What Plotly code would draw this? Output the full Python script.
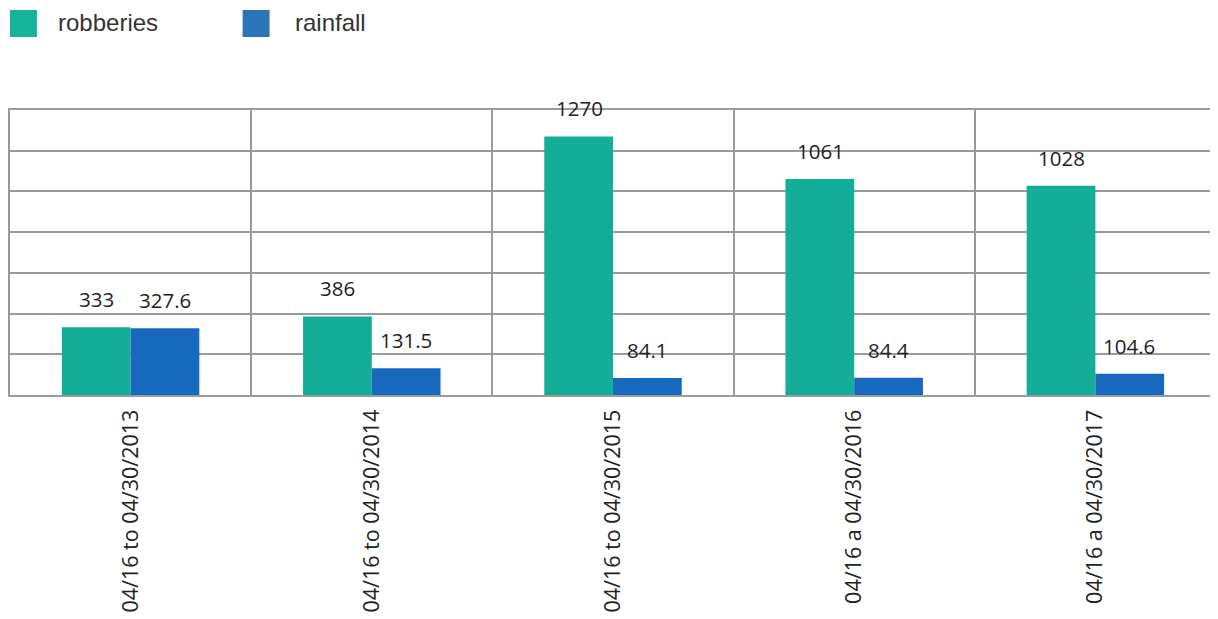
import plotly.graph_objects as go

categories = ["04/16 to 04/30/2013", "04/16 to 04/30/2014", "04/16 to 04/30/2015",
              "04/16 a 04/30/2016", "04/16 a 04/30/2017"]
robberies = [333, 386, 1270, 1061, 1028]
rainfall = [327.6, 131.5, 84.1, 84.4, 104.6]
robberies_labels = ["333", "386", "1270", "1061", "1028"]
rainfall_labels = ["327.6", "131.5", "84.1", "84.4", "104.6"]
series_names = ["robberies", "rainfall"]

TEAL = "#14ad97"
BLUE = "#1769bd"
LEG_TEAL = "#16b39b"
LEG_BLUE = "#2a75b9"
GRID = "#9a9a9a"

W, H = 1210, 611
ML, MR, MT, MB = 2, 0, 102, 224
PW = W - ML - MR
PH = H - MT - MB

fig = go.Figure()
fig.add_trace(go.Bar(x=categories, y=robberies, name=series_names[0],
                     marker=dict(color=TEAL, line=dict(width=0)), showlegend=False))
fig.add_trace(go.Bar(x=categories, y=rainfall, name=series_names[1],
                     marker=dict(color=BLUE, line=dict(width=0)), showlegend=False))

annotations = []
label_font = dict(family="Open Sans, Liberation Sans, sans-serif", size=20.5, color="#222222")
for cat, v, t in zip(categories, robberies, robberies_labels):
    annotations.append(dict(x=cat, y=v, xref="x", yref="y", text=t, showarrow=False,
                            xshift=-34, yshift=12, yanchor="bottom", font=label_font))
for cat, v, t in zip(categories, rainfall, rainfall_labels):
    annotations.append(dict(x=cat, y=v, xref="x", yref="y", text=t, showarrow=False,
                            xshift=34, yshift=12, yanchor="bottom", font=label_font))

# custom legend (big swatches) at top-left; pixel positions in page coords (offset 8)
legend_font = dict(family="Liberation Sans, Arial, sans-serif", size=24, color="#333333")
shapes = []
OFF = 8
leg_items = [(series_names[0], LEG_TEAL, 10, 56), (series_names[1], LEG_BLUE, 243, 293)]
px = lambda x: (x - OFF - ML) / PW
py = lambda y: (H - MB - (y - OFF)) / PH
for name, col, sx, tx in leg_items:
    shapes.append(dict(type="rect", xref="paper", yref="paper",
                       x0=px(sx), x1=px(sx + 27), y0=py(37), y1=py(10),
                       fillcolor=col, line=dict(width=0)))
    annotations.append(dict(x=px(tx), y=py(23), xref="paper", yref="paper",
                            text=name, showarrow=False, xanchor="left", yanchor="middle",
                            font=legend_font))

fig.update_layout(
    width=W, height=H,
    margin=dict(l=ML, r=MR, t=MT, b=MB),
    paper_bgcolor="white", plot_bgcolor="white",
    barmode="group", bargap=0.43, bargroupgap=0,
    showlegend=False,
    annotations=annotations, shapes=shapes,
    xaxis=dict(type="category", tickson="boundaries", showgrid=True, gridcolor=GRID, gridwidth=2,
               tickangle=-90, ticks="", showline=True, linecolor=GRID, linewidth=2, mirror=True,
               tickfont=dict(family="Open Sans, Liberation Sans, sans-serif", size=21.5, color="#222222"),
               ticklabelstandoff=4),
    yaxis=dict(range=[0, 1400], dtick=200, showgrid=True, gridcolor=GRID, gridwidth=2,
               showticklabels=False, ticks="", zeroline=False, showline=True, linecolor=GRID,
               linewidth=2, mirror=True),
)

fig.write_html("out.html")
